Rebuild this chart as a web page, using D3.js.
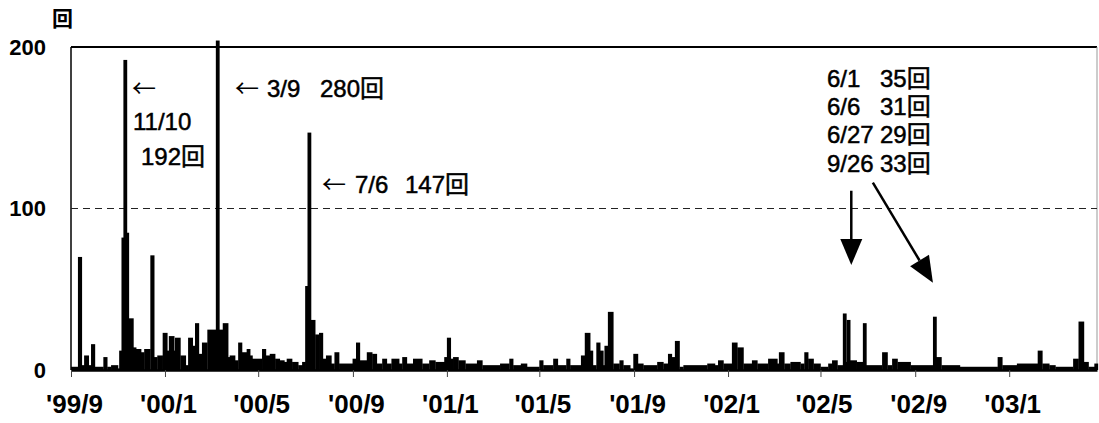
<!DOCTYPE html>
<html><head><meta charset="utf-8">
<script src="https://cdn.jsdelivr.net/npm/d3@7"></script>
<style>body{margin:0;background:#fff}svg{display:block}</style>
</head><body><svg id="c" width="1099" height="423"></svg>
<script>
// ---- data ----
const runDates = ["1999-09-01","1999-09-10","1999-09-15","1999-09-18","1999-09-24","1999-09-27","1999-10-02","1999-10-13","1999-10-18","1999-10-23","1999-11-01","1999-11-04","1999-11-06","1999-11-10","1999-11-11","1999-11-15","1999-11-21","1999-11-24","1999-12-01","1999-12-05","1999-12-13","1999-12-18","1999-12-22","1999-12-29","2000-01-04","2000-01-06","2000-01-13","2000-01-14","2000-01-21","2000-01-28","2000-01-31","2000-02-06","2000-02-09","2000-02-14","2000-02-18","2000-02-25","2000-03-09","2000-03-10","2000-03-16","2000-03-23","2000-03-25","2000-04-01","2000-04-05","2000-04-10","2000-04-17","2000-04-20","2000-04-23","2000-05-06","2000-05-11","2000-05-16","2000-05-23","2000-05-29","2000-06-04","2000-06-07","2000-06-14","2000-06-22","2000-06-28","2000-07-01","2000-07-06","2000-07-07","2000-07-14","2000-07-19","2000-07-24","2000-07-28","2000-08-04","2000-08-08","2000-08-14","2000-09-01","2000-09-05","2000-09-10","2000-09-19","2000-09-26","2000-10-02","2000-10-09","2000-10-15","2000-10-21","2000-10-31","2000-11-04","2000-11-10","2000-11-18","2000-11-30","2000-12-09","2000-12-17","2000-12-30","2001-01-01","2001-01-06","2001-01-09","2001-01-16","2001-01-25","2001-02-09","2001-02-16","2001-03-11","2001-03-23","2001-03-28","2001-04-07","2001-04-15","2001-05-01","2001-05-06","2001-05-19","2001-05-25","2001-06-05","2001-06-10","2001-06-24","2001-06-29","2001-07-06","2001-07-09","2001-07-14","2001-07-19","2001-07-23","2001-07-25","2001-07-29","2001-08-05","2001-08-13","2001-08-18","2001-08-27","2001-08-31","2001-09-06","2001-09-13","2001-10-01","2001-10-09","2001-10-15","2001-10-20","2001-10-24","2001-10-30","2001-11-04","2001-12-05","2001-12-15","2001-12-19","2001-12-26","2002-01-06","2002-01-13","2002-01-21","2002-02-01","2002-02-08","2002-02-22","2002-03-06","2002-03-08","2002-03-15","2002-03-23","2002-04-05","2002-04-10","2002-04-15","2002-04-22","2002-05-01","2002-05-11","2002-05-16","2002-05-23","2002-06-01","2002-06-02","2002-06-06","2002-06-07","2002-06-17","2002-06-27","2002-06-28","2002-07-20","2002-07-27","2002-08-02","2002-08-09","2002-08-26","2002-09-26","2002-09-27","2002-10-05","2002-10-29","2002-12-17","2002-12-23","2003-01-11","2003-02-07","2003-02-13","2003-02-22","2003-03-02","2003-03-25","2003-04-01","2003-04-08","2003-04-14","2003-04-23"];
const runValues = [2,70,3,9,3,16,2,8,2,3,1,12,82,192,85,32,14,13,11,13,71,8,9,23,12,21,12,20,9,3,20,15,29,10,17,25,280,25,29,8,9,6,17,11,13,9,7,13,9,10,7,6,5,7,5,3,5,52,147,31,22,23,7,9,4,11,4,7,17,6,11,10,4,7,4,7,4,8,4,7,4,6,5,8,20,7,8,6,4,6,3,4,7,3,4,2,6,3,7,3,7,3,9,23,12,3,17,12,3,15,36,4,6,3,1,10,4,3,5,4,10,8,18,2,3,4,3,6,4,17,14,4,6,4,7,4,11,4,5,4,11,7,4,2,4,6,3,35,5,31,6,5,29,3,11,3,7,5,3,33,8,3,2,8,3,4,12,4,3,2,7,30,5,2,4];
const periodStart = "1999-09-01";
const periodEnd = "2003-04-25";
const xTickDates = ["1999-09-01","2000-01-01","2000-05-01","2000-09-01","2001-01-01","2001-05-01","2001-09-01","2002-01-01","2002-05-01","2002-09-01","2003-01-01"];
const xTickLabels = ["'99/9","'00/1","'00/5","'00/9","'01/1","'01/5","'01/9","'02/1","'02/5","'02/9","'03/1"];
const yTickValues = [0, 100, 200];
const yMax = 200;
const refLineValue = 100;
const unitLabel = "回";

const svg = d3.select("#c");
const parse = d3.timeParse("%Y-%m-%d");
const L = 71, R = 1097, T = 47, B = 370;
const x = d3.scaleTime().domain([parse(periodStart), parse(periodEnd)]).range([L, R]);
const y = d3.scaleLinear().domain([0, yMax]).range([B, T]);

const FONT = "'Liberation Sans Narrow','Liberation Sans','Noto Sans CJK JP',sans-serif";
const CJK = "'Noto Sans CJK JP',sans-serif";

svg.append("rect").attr("width",1099).attr("height",423).attr("fill","#fff");

// frame
svg.append("line").attr("x1",L).attr("x2",R).attr("y1",y(yMax)).attr("y2",y(yMax)).attr("stroke","#000").attr("stroke-width",2);
svg.append("line").attr("x1",L).attr("x2",L).attr("y1",y(yMax)).attr("y2",y(0)).attr("stroke","#000").attr("stroke-width",1.5);
svg.append("line").attr("x1",R).attr("x2",R).attr("y1",y(yMax)).attr("y2",y(0)).attr("stroke","#999").attr("stroke-width",1);

// reference dashed line
svg.append("line").attr("x1",L).attr("x2",R).attr("y1",y(refLineValue)).attr("y2",y(refLineValue))
  .attr("stroke","#222").attr("stroke-width",1).attr("stroke-dasharray","7,5");

// bars
const runs = runDates.map((d,i)=>({start:parse(d), end: parse(i<runDates.length-1?runDates[i+1]:periodEnd), v:runValues[i]}));
svg.append("g").selectAll("rect").data(runs).join("rect")
  .attr("x", d=>{const x0=x(d.start), x1=x(d.end); const w=x1-x0; return w<3.5 ? (x0+x1)/2-1.9 : x0;})
  .attr("width", d=>{const w=x(d.end)-x(d.start); return w<3.5?3.8:w+0.3;})
  .attr("y", d=>y(Math.min(d.v, yMax*1.02)))
  .attr("height", d=>y(0)-y(Math.min(d.v, yMax*1.02)))
  .attr("fill","#000");

// x axis
const xAxis = d3.axisBottom(x).tickValues(xTickDates.map(parse)).tickFormat((d,i)=>xTickLabels[i]).tickSize(7).tickSizeOuter(0).tickPadding(18);
const gx = svg.append("g").attr("transform",`translate(0,${B})`).call(xAxis);
gx.select(".domain").attr("stroke","#000").attr("stroke-width",2.5);
gx.selectAll(".tick line").attr("stroke","#444").attr("stroke-width",1);
gx.selectAll(".tick text").attr("font-family","'Liberation Sans',sans-serif").attr("font-weight","bold").attr("font-size",26).attr("fill","#000").attr("dx",3);

// y axis
const yAxis = d3.axisLeft(y).tickValues(yTickValues).tickSize(0).tickPadding(25);
const gy = svg.append("g").attr("transform",`translate(${L},0)`).call(yAxis);
gy.select(".domain").remove();
gy.selectAll(".tick text").attr("font-family","'Liberation Sans',sans-serif").attr("font-weight","bold").attr("font-size",22).attr("fill","#000");

// unit
svg.append("text").attr("x",52).attr("y",26).attr("font-family",CJK).attr("font-weight","bold").attr("font-size",21).text(unitLabel);

// annotations
const ann = svg.append("g").attr("font-family",FONT).attr("font-size",24).attr("fill","#000")
  .attr("stroke","#000").attr("stroke-width",0.5);
function line(yp, parts){
  const t = ann.append("text").attr("y",yp);
  parts.forEach(p=>{
    const s = t.append("tspan").attr("x",p[0]).text(p[1]);
    if (p[1] === "←") s.attr("font-family",CJK).attr("stroke-width",0);
  });
}
line(97, [[132,"←"]]);
line(130, [[133,"11/10"]]);
line(165, [[141,"192回"]]);
line(97, [[235,"←"],[267,"3/9"],[320,"280回"]]);
line(193, [[322,"←"],[355,"7/6"],[405,"147回"]]);
line(87, [[827,"6/1"],[880,"35回"]]);
line(115, [[827,"6/6"],[880,"31回"]]);
line(143, [[827,"6/27"],[880,"29回"]]);
line(172, [[827,"9/26"],[880,"33回"]]);

// big arrows
function bigArrow(x0,y0,x1,y1){
  const dx=x1-x0, dy=y1-y0, len=Math.hypot(dx,dy), ux=dx/len, uy=dy/len;
  const hl=26, hw=11;
  const bx=x1-ux*hl, by=y1-uy*hl;
  svg.append("line").attr("x1",x0).attr("y1",y0).attr("x2",bx).attr("y2",by).attr("stroke","#000").attr("stroke-width",2.5);
  svg.append("path").attr("d",`M${x1},${y1}L${bx-uy*hw},${by+ux*hw}L${bx+uy*hw},${by-ux*hw}Z`).attr("fill","#000");
}
bigArrow(x(parse("2002-06-10")), y(111), x(parse("2002-06-10")), y(65));
bigArrow(x(parse("2002-07-08")), y(116), x(parse("2002-09-24")), y(54));
</script></body></html>
